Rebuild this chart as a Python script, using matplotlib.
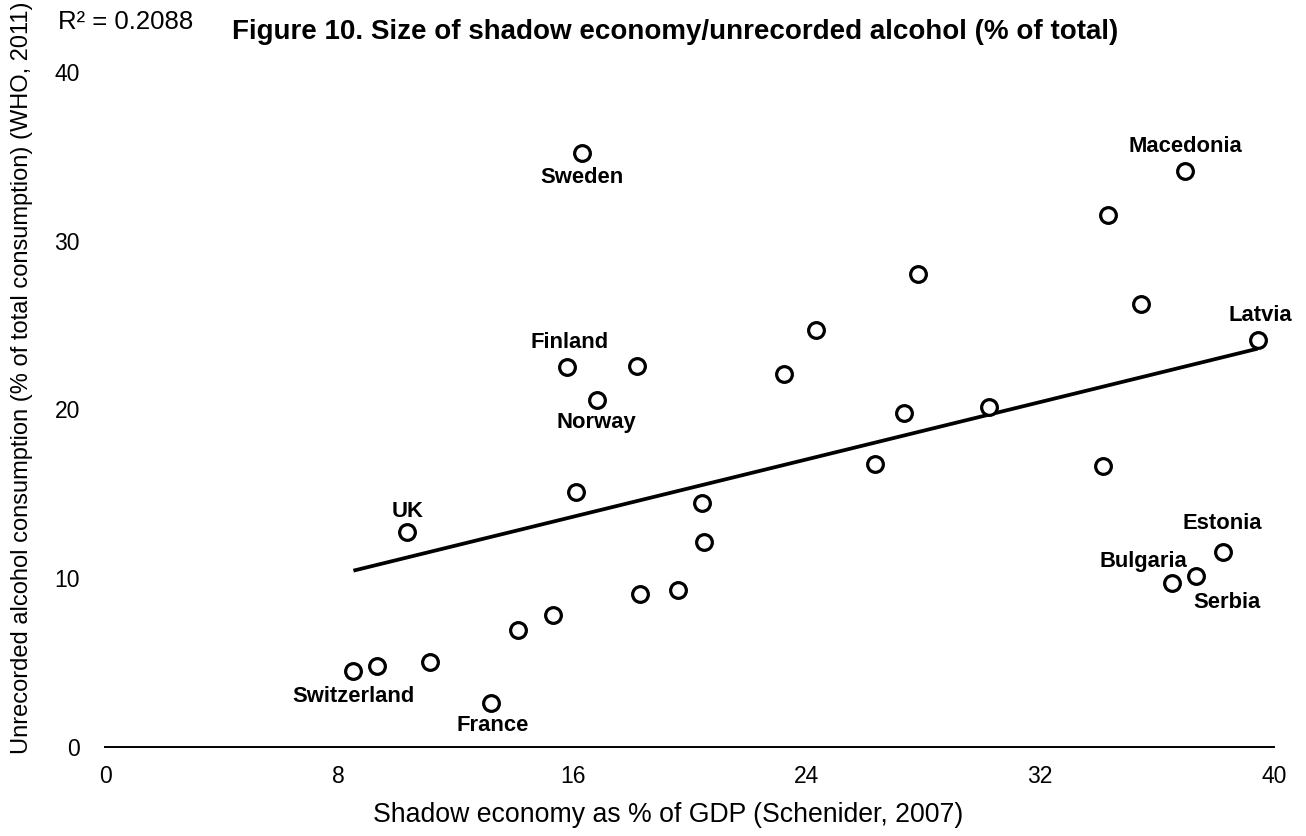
import numpy as np
import matplotlib
matplotlib.use("Agg")
import matplotlib.pyplot as plt

plt.rcParams['font.family'] = ['Liberation Sans', 'DejaVu Sans']

# Shadow economy as % of GDP (x) and unrecorded alcohol % of total consumption (y)
shadow_economy = [16.32, 36.94, 34.33, 27.83, 35.45, 39.44, 24.33, 23.23, 15.82, 18.22,
                  16.83, 27.33, 30.25, 26.34, 34.14, 16.12, 20.43, 10.32, 20.51, 38.24,
                  37.34, 36.52, 18.32, 19.62, 15.32, 14.12, 11.11, 9.32, 8.50, 13.21]
unrecorded = [35.2, 34.17, 31.54, 28.04, 26.24, 24.12, 24.72, 22.11, 22.50, 22.6,
              20.56, 19.77, 20.13, 16.77, 16.65, 15.09, 14.47, 12.71, 12.12, 11.56,
              10.14, 9.68, 9.03, 9.29, 7.80, 6.91, 5.0, 4.78, 4.5, 2.56]
names = ["Sweden", "Macedonia", "", "", "", "Latvia", "", "", "Finland", "",
         "Norway", "", "", "", "", "", "", "UK", "", "Estonia",
         "Serbia", "Bulgaria", "", "", "", "", "", "", "Switzerland", "France"]
# label offsets in pixels relative to the point
label_offsets = {
    "Sweden": (0, -24), "Macedonia": (1, 24), "Latvia": (3, 25), "Finland": (2, 25),
    "Norway": (0, -22), "UK": (1, 21), "Switzerland": (0, -26), "France": (2, -22),
    "Estonia": (0, 28), "Bulgaria": (-29, 22), "Serbia": (31, -27),
}
x_ticks = [0, 8, 16, 24, 32, 40]
y_ticks = [0, 10, 20, 30, 40]
r2_text = "R\u00b2 = 0.2088"

fig = plt.figure(figsize=(13.06, 8.36), dpi=100)
ax = fig.add_axes([105/1306, 1-746.5/836, 1169/1306, 674/836])
ax.set_xlim(0, 40)
ax.set_ylim(0, 40)

x = np.array(shadow_economy)
y = np.array(unrecorded)

# linear trend line
slope, intercept = np.polyfit(x, y, 1)
xs = np.array([x.min(), x.max()])
ax.plot(xs, slope*xs + intercept, color='black', lw=2.7, zorder=2, solid_capstyle='butt')

ax.scatter(x, y, s=128, facecolors='white', edgecolors='black', linewidths=2.3, zorder=3,
           clip_on=False)

for xi, yi, nm in zip(x, y, names):
    if nm:
        dx, dy = label_offsets[nm]
        ax.annotate(nm, (xi, yi), xytext=(dx, dy), textcoords='offset pixels',
                    ha='center', va='center', fontsize=15.8, fontweight='bold')

for s in ['top', 'right', 'left']:
    ax.spines[s].set_visible(False)
ax.spines['bottom'].set_linewidth(1.4)
ax.set_xticks(x_ticks)
ax.set_yticks(y_ticks)
ax.set_xticklabels([str(v) for v in x_ticks])
ax.set_yticklabels([str(v) for v in y_ticks])
ax.tick_params(axis='both', length=0, labelsize=16.5)
ax.tick_params(axis='x', pad=13)
ax.tick_params(axis='y', pad=18)

fig.text(668/1306, 1-815/836, "Shadow economy as % of GDP (Schenider, 2007)",
         ha='center', va='center', fontsize=19.2)
fig.text(22/1306, 1-378/836,
         "Unrecorded alcohol consumption (% of total consumption) (WHO, 2011)",
         ha='center', va='center', rotation=90, fontsize=17)
fig.text(675/1306, 1-32/836,
         "Figure 10. Size of shadow economy/unrecorded alcohol (% of total)",
         ha='center', va='center', fontsize=20, fontweight='bold')
fig.text(58/1306, 1-22/836, r2_text, ha='left', va='center', fontsize=18.5)

fig.savefig("out.png", dpi=100)
